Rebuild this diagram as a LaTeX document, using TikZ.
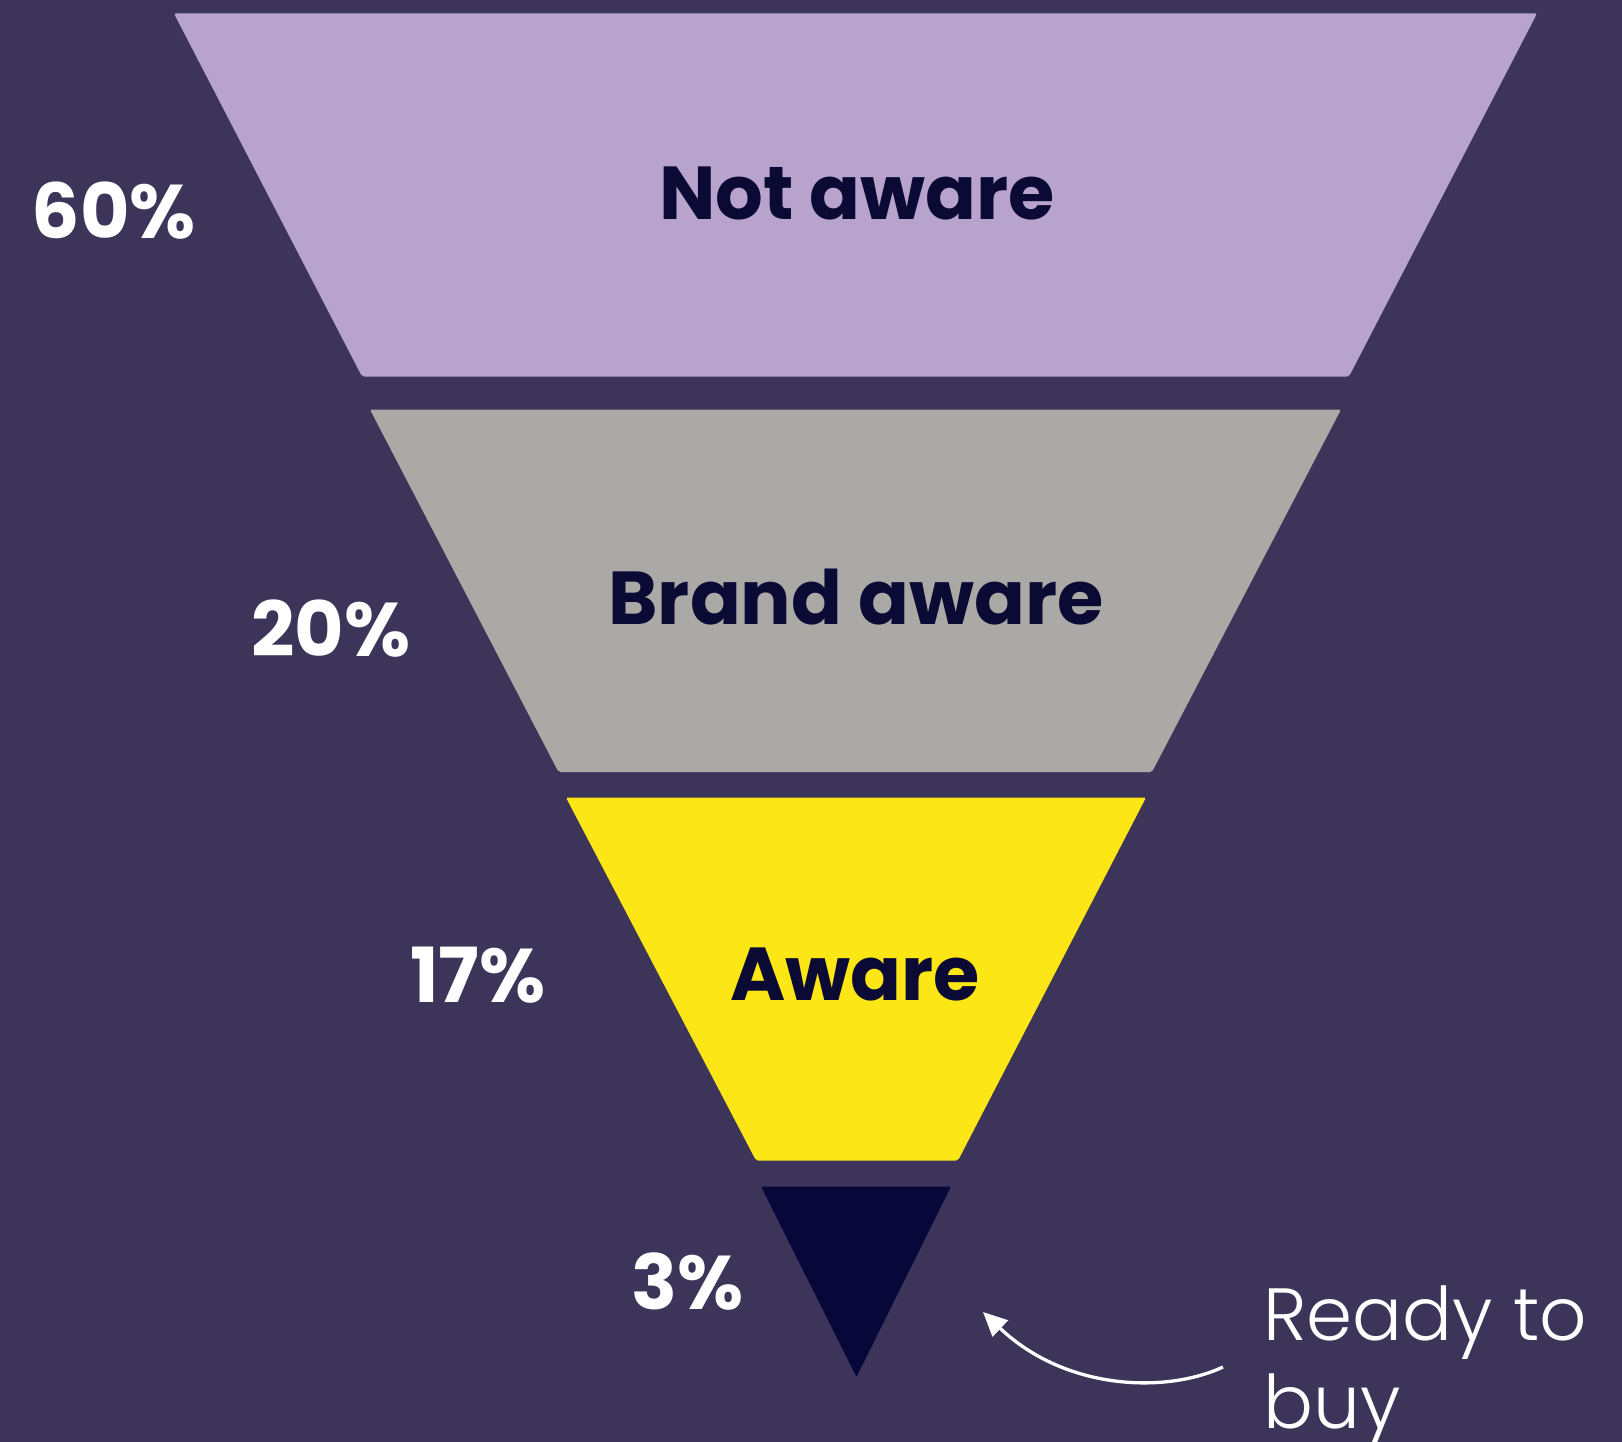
\documentclass[tikz,border=0pt]{standalone}
\usepackage{fontspec}
\setmainfont{Poppins}[BoldFont={Poppins Bold}]
\newfontfamily\lightfont{Poppins Light}
\usetikzlibrary{arrows.meta}
\definecolor{bg}{HTML}{3D3559}
\definecolor{lilac}{HTML}{B8A3CD}
\definecolor{greyband}{HTML}{AAA9A6}
\definecolor{yellowband}{HTML}{FCE616}
\definecolor{navy}{HTML}{07073A}
\definecolor{labeltext}{HTML}{0A0A35}
\begin{document}
\begin{tikzpicture}[x=1pt,y=-1pt,
  band/.style={rounded corners=2pt},
  stagelabel/.style={inner sep=0pt,anchor=base,text=labeltext,font=\bfseries\fontsize{75}{78}\selectfont},
  pctlabel/.style={inner sep=0pt,anchor=base,text=white,font=\bfseries\fontsize{76}{78}\selectfont},
  note/.style={inner sep=0pt,anchor=base west,text=white,font=\lightfont\fontsize{74}{88}\selectfont}]
\fill[bg] (0,0) rectangle (1622,1442);
\useasboundingbox (0,0) rectangle (1622,1442);
% bands
\fill[lilac,band] (174,13.5) -- (1537,13.5) -- (1349,376.5) -- (362,376.5) -- cycle;
\fill[greyband,band] (370,409.5) -- (1341,409.5) -- (1152,772) -- (558.5,772) -- cycle;
\fill[yellowband,band] (566,797.5) -- (1146,797.5) -- (958,1160.5) -- (756,1160.5) -- cycle;
\fill[navy,band] (761,1186.5) -- (951,1186.5) -- (856.5,1377) -- cycle;
% stage labels
\node[stagelabel] (notaware) at (857,220) {Not aware};
\node[stagelabel] (brandaware) at (856,624) {Brand aware};
\node[stagelabel] (aware) at (855,1000) {Aware};
% percentages
\node[pctlabel] (p60) at (114,239) {60\%};
\node[pctlabel] (p20) at (331,656) {20\%};
\node[pctlabel] (p17) at (478,1002) {17\%};
\node[pctlabel] (p3) at (688,1309) {3\%};
% note
\node[note] (ready) at (1263,1340) {Ready to};
\node[note] (buy) at (1263,1428) {buy};
\coordinate (arrstart) at (1223,1367);
\coordinate (arrtip) at (983,1312);
\draw[white,line width=3.3pt,-{Triangle[length=24pt,width=22pt]}]
  (arrstart) .. controls (1165,1394) and (1065,1390) .. (arrtip);
\end{tikzpicture}
\end{document}
